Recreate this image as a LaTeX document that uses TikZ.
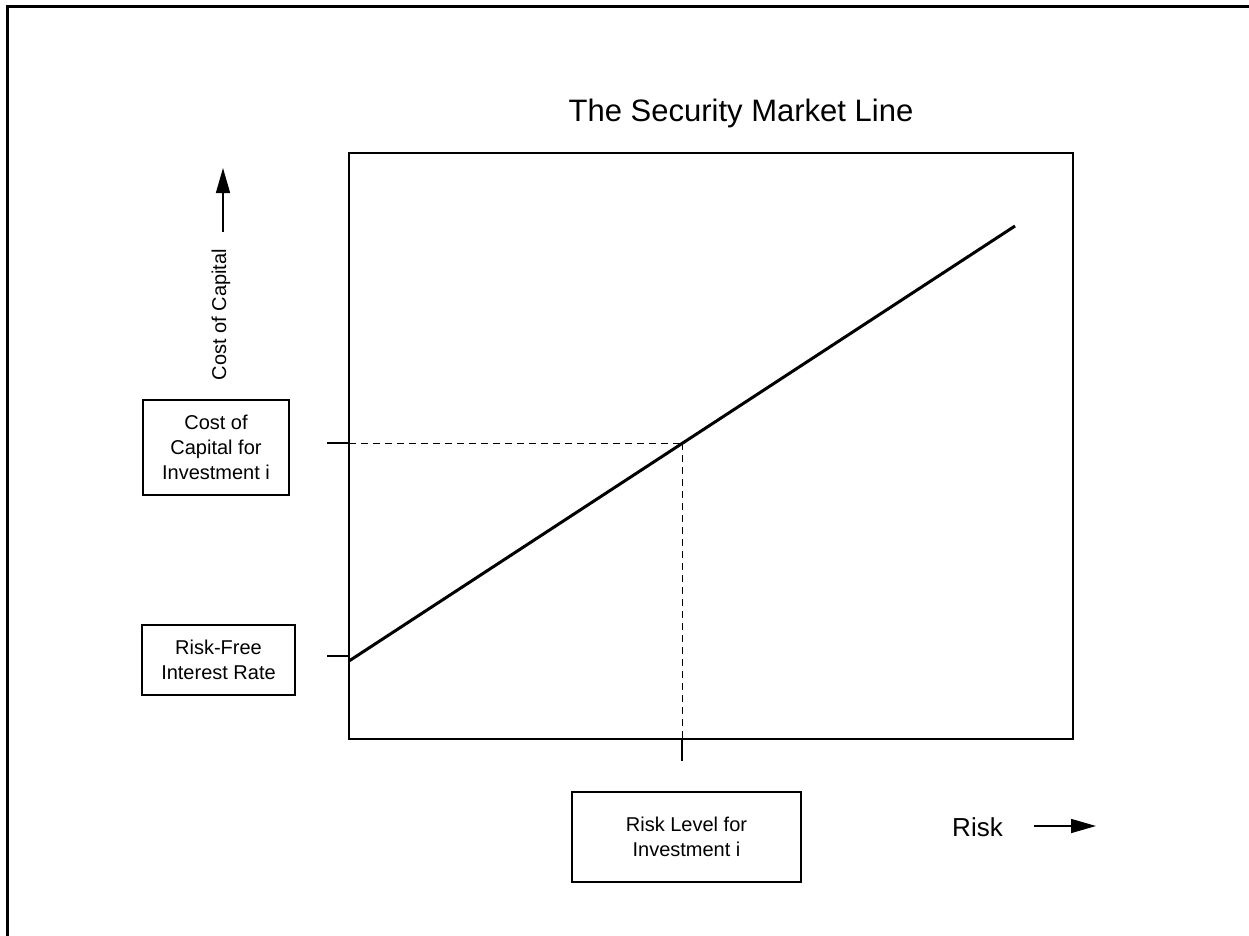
\documentclass[tikz,border=0pt]{standalone}
\usepackage{fontspec}
\setmainfont{Liberation Sans}
\usetikzlibrary{arrows.meta}
\begin{document}
\begin{tikzpicture}[x=1pt,y=-1pt,
  lbl/.style={draw,line width=1.5pt,align=center,font=\fontsize{20}{25}\selectfont,inner sep=0pt},
  tick/.style={line width=1.5pt},
  guide/.style={line width=1pt,dash pattern=on 7pt off 5pt},
  axarrow/.style={line width=1.5pt,-{Triangle[length=25pt,width=14pt]}},
  sml/.style={line width=3pt}]
\useasboundingbox (0,0) rectangle (1249,936);
% outer frame
\coordinate (fbl) at (7.5,940);
\coordinate (ftl) at (7.5,6.5);
\coordinate (ftr) at (1252,6.5);
\draw[line width=3pt] (fbl) -- (ftl) -- (ftr);
% title
\node[font=\fontsize{31}{36}\selectfont] (title) at (741,113) {The Security Market Line};
% plot box
\coordinate (pbl) at (349,739);
\coordinate (ptr) at (1073,153);
\draw[line width=1.5pt] (pbl) rectangle (ptr);
% security market line
\coordinate (smla) at (349,661);
\coordinate (smlb) at (1015,226);
\draw[sml] (smla) -- (smlb);
% point i
\coordinate (pti) at (682,443);
\coordinate (yax) at (349,443);
\coordinate (ytk) at (327,443);
\coordinate (xax) at (682,739);
\coordinate (xtk) at (682,761);
\draw[guide] (yax) -- (pti);
\draw[guide] (pti) -- (xax);
\draw[tick] (ytk) -- (yax);
\draw[tick] (xax) -- (xtk);
% risk-free tick
\coordinate (rfa) at (327,656);
\coordinate (rfb) at (349,656);
\draw[tick] (rfa) -- (rfb);
% label boxes
\node[lbl,minimum width=146pt,minimum height=95pt] (coci) at (216,447.5) {Cost of\\Capital for\\Investment i};
\node[lbl,minimum width=153pt,minimum height=70pt] (rf) at (218.5,660) {Risk-Free\\Interest Rate};
\node[lbl,minimum width=229pt,minimum height=90pt] (rli) at (686.5,837) {Risk Level for\\Investment i};
% axis titles
\node[rotate=90,font=\fontsize{20}{24}\selectfont,inner sep=0pt] (coc) at (221,314.5) {Cost of Capital};
\coordinate (upa) at (223,232);
\coordinate (upb) at (223,168);
\draw[axarrow] (upa) -- (upb);
\node[font=\fontsize{26}{30}\selectfont,inner sep=0pt] (risk) at (977.5,827.5) {Risk};
\coordinate (rta) at (1034,826);
\coordinate (rtb) at (1096,826);
\draw[axarrow] (rta) -- (rtb);
\end{tikzpicture}
\end{document}
